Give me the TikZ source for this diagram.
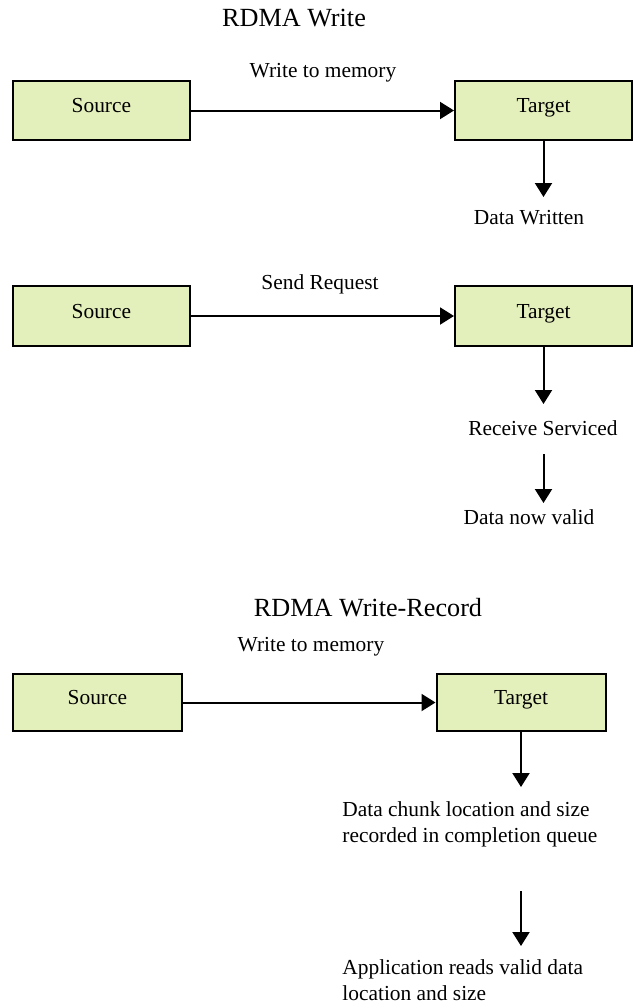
\documentclass[tikz,border=0pt]{standalone}
\usepackage{fontspec}
\setmainfont{Liberation Serif}
\usetikzlibrary{arrows.meta}
\definecolor{boxfill}{RGB}{228,240,187}
\tikzset{
  x=0.5pt, y=-0.5pt,
  unit/.style={draw=black, line width=1pt, fill=boxfill, inner sep=0pt,
    minimum width=88.5pt, minimum height=29.5pt,
    text height=5pt, text depth=3pt,
    font=\fontsize{10.7}{13}\selectfont},
  smallunit/.style={unit, minimum width=84.5pt, minimum height=28.5pt},
  flow/.style={line width=1pt, -{Triangle[length=7pt,width=8.5pt]}},
  lbl/.style={inner sep=0pt, anchor=base, font=\fontsize{10.7}{13}\selectfont},
  para/.style={inner sep=0pt, anchor=base west, align=left,
    font=\fontsize{10.7}{13}\selectfont},
  heading/.style={inner sep=0pt, anchor=base, font=\fontsize{13.1}{16}\selectfont}
}
\begin{document}
\begin{tikzpicture}
\useasboundingbox (0,0) rectangle (633,1003);

% --- RDMA Write ---
\node[heading] (t1) at (294,26) {RDMA Write};

\node[unit] (src1) at (101.4,110.5) {Source};
\node[unit] (tgt1) at (543.5,110.5) {Target};
\node[lbl] (w1) at (323,77) {Write to memory};
\draw[flow] (src1) -- (tgt1);
\coordinate (d1) at (543.5,197);
\draw[flow] (tgt1.south) -- (d1);
\node[lbl] (dw) at (529,224) {Data Written};

% --- Send / Receive ---
\node[unit, minimum height=30pt] (src2) at (101.4,316) {Source};
\node[unit, minimum height=30pt] (tgt2) at (543.5,316) {Target};
\node[lbl] (sr) at (320,289) {Send Request};
\draw[flow] (src2) -- (tgt2);
\coordinate (d2) at (543.5,404);
\draw[flow] (tgt2.south) -- (d2);
\node[lbl] (rs) at (543,435) {Receive Serviced};
\coordinate (e2a) at (543.5,454);
\coordinate (e2b) at (543.5,503);
\draw[flow] (e2a) -- (e2b);
\node[lbl] (dv) at (529,524) {Data now valid};

% --- RDMA Write-Record ---
\node[heading] (t2) at (368,616) {RDMA Write-Record};

\node[smallunit] (src3) at (97.4,702.5) {Source};
\node[smallunit] (tgt3) at (521,702.5) {Target};
\node[lbl] (w3) at (311,651) {Write to memory};
\draw[flow] (src3) -- (tgt3);
\coordinate (d3) at (521,787);
\draw[flow] (tgt3.south) -- (d3);
\node[para] (cq) at (342,842) {Data chunk location and size\\recorded in completion queue};
\coordinate (e3a) at (521,891);
\coordinate (e3b) at (521,946);
\draw[flow] (e3a) -- (e3b);
\node[para] (ar) at (342,1000) {Application reads valid data\\location and size};
\end{tikzpicture}
\end{document}
